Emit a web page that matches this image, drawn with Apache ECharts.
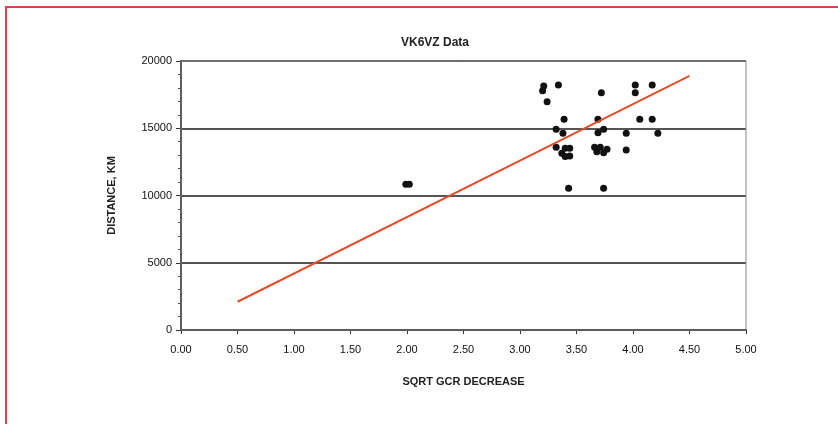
<!DOCTYPE html>
<html>
<head>
<meta charset="utf-8">
<script src="https://cdn.jsdelivr.net/npm/echarts@6/dist/echarts.min.js"></script>
<style>
html,body{margin:0;padding:0;background:#fff;}
#main{width:838px;height:424px;}
</style>
</head>
<body>
<div id="main"></div>
<script>
// 散点数据 (x: sqrt gcr decrease, y: distance km)
var gcrX = [1.99, 2.02, 3.21, 3.20, 3.34, 3.24, 3.72, 4.02, 4.02, 4.17,
    3.39, 3.69, 4.06, 4.17, 3.32, 3.38, 3.69, 3.74, 3.94, 4.22,
    3.32, 3.40, 3.44, 3.37, 3.44, 3.40, 3.66, 3.71, 3.77, 3.68,
    3.74, 3.94, 3.43, 3.74];
var distY = [10830, 10830, 18140, 17790, 18220, 16970, 17640, 18220, 17640, 18220,
    15660, 15660, 15660, 15660, 14920, 14620, 14670, 14920, 14620, 14620,
    13580, 13510, 13510, 13140, 12940, 12900, 13580, 13580, 13430, 13260,
    13180, 13380, 10530, 10530];
// 趋势线端点
var trendX = [0.5, 4.5];
var trendY = [2100, 18900];

var points = [];
for (var i = 0; i < gcrX.length; i++) {
    points.push([gcrX[i], distY[i]]);
}
var trend = [];
for (var j = 0; j < trendX.length; j++) {
    trend.push([trendX[j], trendY[j]]);
}

var myChart = echarts.init(document.getElementById('main'));

var labelFont = 'Arial, "Liberation Sans"';

var option = {
    backgroundColor: '#fff',
    animation: false,
    title: {
        text: 'VK6VZ Data',
        left: 430,
        textAlign: 'center',
        top: 32,
        textStyle: {
            fontFamily: labelFont,
            fontSize: 12,
            fontWeight: 'bold',
            color: '#222'
        }
    },
    graphic: [
        { type: 'line', shape: { x1: 5, y1: 7, x2: 838, y2: 7 }, style: { stroke: '#d9434a', lineWidth: 2 } },
        { type: 'line', shape: { x1: 6, y1: 7, x2: 6, y2: 424 }, style: { stroke: '#d9434a', lineWidth: 2 } },
        // 绘图区边框
        { type: 'rect', shape: { x: 181, y: 61, width: 565, height: 269 }, style: { fill: 'none', stroke: '#8a8a8a', lineWidth: 1 }, z: 1 }
    ],
    grid: {
        left: 181,
        right: 92,
        top: 61,
        bottom: 94,
        containLabel: false
    },
    xAxis: {
        type: 'value',
        min: 0,
        max: 5,
        interval: 0.5,
        name: 'SQRT GCR DECREASE',
        nameLocation: 'middle',
        nameGap: 46,
        nameTextStyle: {
            fontFamily: labelFont,
            fontSize: 11,
            fontWeight: 'bold',
            color: '#222'
        },
        axisLine: { show: true, lineStyle: { color: '#333', width: 2 } },
        axisTick: { show: true, length: 4, lineStyle: { color: '#333', width: 1 } },
        splitLine: { show: false },
        axisLabel: {
            margin: 14,
            fontFamily: labelFont,
            fontSize: 11,
            color: '#111',
            formatter: function (v) { return v.toFixed(2); }
        }
    },
    yAxis: {
        type: 'value',
        min: 0,
        max: 20000,
        interval: 5000,
        name: 'DISTANCE, KM',
        nameLocation: 'middle',
        nameGap: 64,
        nameTextStyle: {
            fontFamily: labelFont,
            fontSize: 11,
            fontWeight: 'bold',
            color: '#222'
        },
        axisLine: { show: true, lineStyle: { color: '#333', width: 2 } },
        axisTick: { show: true, length: 5, lineStyle: { color: '#333' } },
        minorTick: { show: true, splitNumber: 5, length: 3, lineStyle: { color: '#444' } },
        splitLine: {
            show: true,
            lineStyle: { color: '#555', width: 2 }
        },
        axisLabel: {
            margin: 9,
            fontFamily: labelFont,
            fontSize: 11,
            color: '#111',
            formatter: function (v) { return String(v); }
        }
    },
    series: [{
            name: 'data',
            type: 'scatter',
            symbol: 'circle',
            symbolSize: 7,
            itemStyle: { color: '#111', opacity: 1 },
            data: points,
            z: 3
        },
        {
            name: 'trend',
            type: 'line',
            symbol: 'none',
            lineStyle: { color: '#e0502a', width: 2 },
            data: trend,
            z: 4
        }
    ]
};

myChart.setOption(option);
</script>
</body>
</html>
